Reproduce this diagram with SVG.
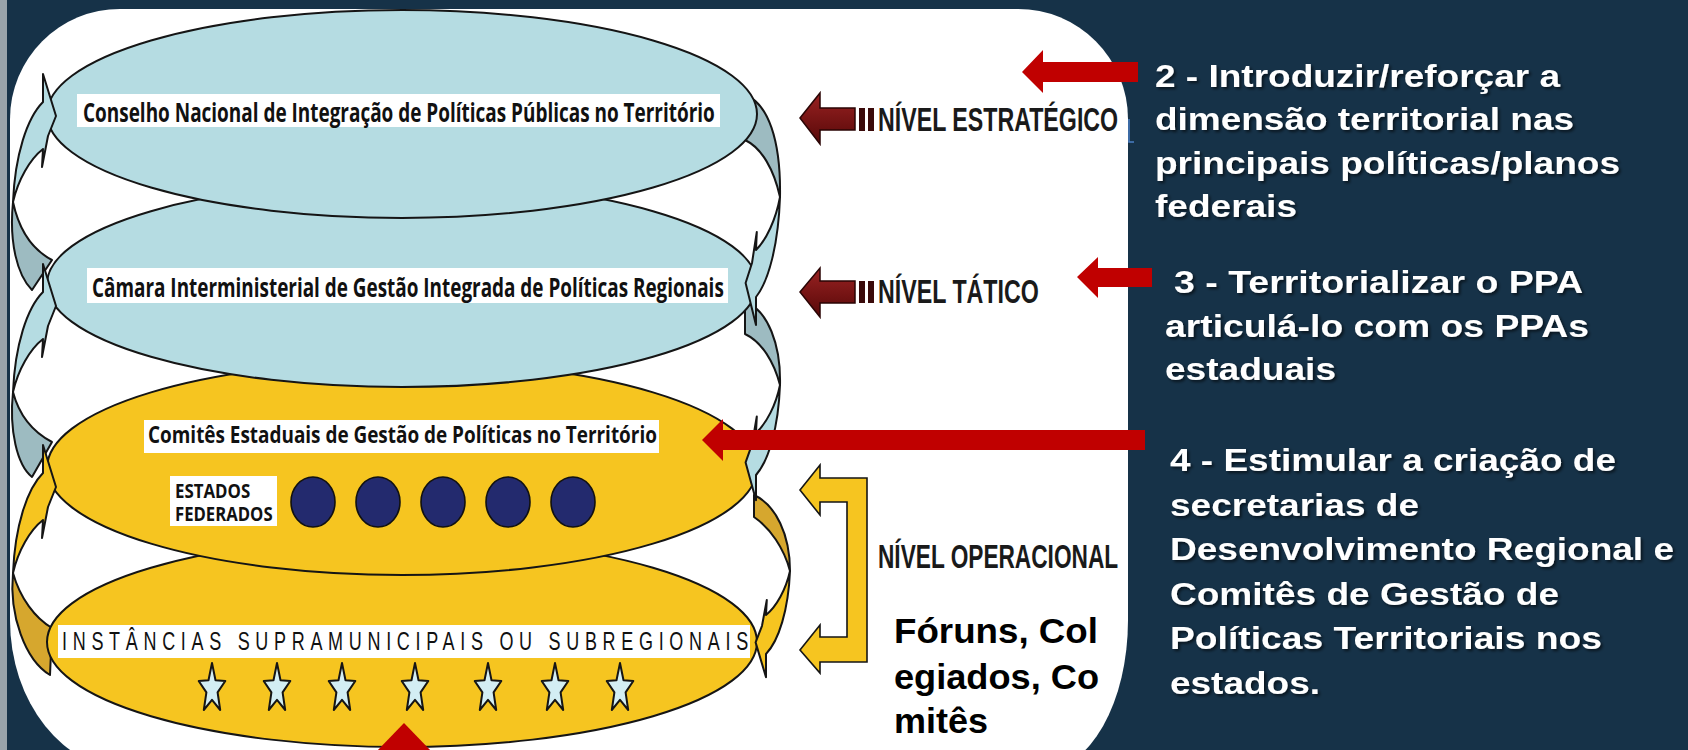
<svg xmlns="http://www.w3.org/2000/svg" xmlns:xlink="http://www.w3.org/1999/xlink" width="1688" height="750" viewBox="0 0 1688 750">
<defs>
<style>
.ol{stroke:#151515;stroke-width:2;stroke-linejoin:round}
.blue{fill:#b5dce2}
.blueD{fill:#9dbbc1}
.yel{fill:#f6c520}
.yelD{fill:#d6a72e}
.box{fill:#ffffff}
.lbl{font-family:'Open Sans','Liberation Sans',sans-serif;font-weight:700;fill:#111}
.niv{font-family:'Liberation Sans',Arial,sans-serif;font-weight:bold;font-size:33px;fill:#1a1a1a}
.rt{font-family:'Liberation Sans',Arial,sans-serif;font-weight:bold;font-size:32px;fill:#ffffff}
.fr{font-family:'Liberation Sans',Arial,sans-serif;font-weight:bold;font-size:35px;fill:#000}
.red{fill:#c00000}
</style>
<linearGradient id="dr" x1="0" y1="0" x2="0" y2="1">
<stop offset="0" stop-color="#9a2222"/>
<stop offset="1" stop-color="#560808"/>
</linearGradient>
<filter id="sh" x="-5%" y="-20%" width="110%" height="140%">
<feDropShadow dx="2" dy="2" stdDeviation="1.5" flood-color="#000" flood-opacity="0.6"/>
</filter>
<path id="ra" vector-effect="non-scaling-stroke" d="M0,0 C2,-47 14,-84 30,-100 L30,-128 L43,-86 L35,-66 L29,-35 L30,-53 C17,-43 5,-22 0,0 Z"/>
<polygon id="star" points="0,-26 3.5,-8.8 13.3,-8 5.6,3.4 8.2,21 0,10.9 -8.2,21 -5.6,3.4 -13.3,-8 -3.5,-8.8"/>
</defs>

<rect width="1688" height="750" fill="#163248"/>
<rect x="0" y="0" width="7" height="750" fill="#99a3aa"/>
<path id="panel" d="M10,119 A110,110 0 0 1 120,9 L1018,9 A110,110 0 0 1 1128,119 L1128,620 A85,150 0 0 1 1043,770 L130,770 A120,150 0 0 1 10,620 Z" fill="#ffffff"/>
<path d="M1129,119 L1129,142 L1134,142" fill="none" stroke="#4a7fc4" stroke-width="1.5"/>

<g id="ribbons-back">
<path class="blueD ol" d="M13,202 C9,242 17,275 32,290 L52,260 C33,250 19,230 13,202 Z"/>
<path class="blueD ol" d="M13,392 C9,430 17,465 32,477 L52,442 C33,432 19,415 13,392 Z"/>
<path class="yelD ol" d="M13,573 C9,615 25,660 50,675 L52,628 C35,618 20,598 13,573 Z"/>
<path class="blueD ol" d="M745,95 C768,103 781,140 780,197 C774,170 762,148 745,140 Z"/>
<path class="blueD ol" d="M745,302 C768,310 781,345 780,385 C774,362 762,342 745,334 Z"/>
<path class="yelD ol" d="M754,495 C776,505 790,535 790,571 C784,548 770,528 754,517 Z"/>
</g>

<g id="node-instancias">
<ellipse class="yel ol" cx="402" cy="642" rx="355" ry="105"/>
<rect class="box" x="58" y="625" width="692" height="33"/>
<text transform="translate(62,650) scale(0.72,1)" x="0" y="0" font-family="'Liberation Sans',Arial,sans-serif" font-size="25" fill="#111" textLength="953" lengthAdjust="spacing">INSTÂNCIAS SUPRAMUNICIPAIS OU SUBREGIONAIS</text>
<g class="ol" fill="#d3eef3" stroke-width="1.6">
<use xlink:href="#star" href="#star" x="212" y="689"/>
<use xlink:href="#star" href="#star" x="277" y="689"/>
<use xlink:href="#star" href="#star" x="342" y="689"/>
<use xlink:href="#star" href="#star" x="415" y="689"/>
<use xlink:href="#star" href="#star" x="488" y="689"/>
<use xlink:href="#star" href="#star" x="555" y="689"/>
<use xlink:href="#star" href="#star" x="620" y="689"/>
</g>
</g>

<g id="node-comites">
<ellipse class="yel ol" cx="402" cy="468" rx="355" ry="107"/>
<rect class="box" x="144" y="420" width="515" height="33"/>
<text class="lbl" transform="translate(148,443) scale(0.7,1)" font-size="24" textLength="727" lengthAdjust="spacingAndGlyphs">Comitês Estaduais de Gestão de Políticas no Território</text>
<rect class="box" x="170" y="476" width="107" height="50"/>
<text class="lbl" transform="translate(175,498) scale(0.8,1)" font-size="19" textLength="94" lengthAdjust="spacingAndGlyphs">ESTADOS</text>
<text class="lbl" transform="translate(175,521) scale(0.8,1)" font-size="19" textLength="122" lengthAdjust="spacingAndGlyphs">FEDERADOS</text>
<g fill="#232a6e" stroke="#111" stroke-width="1.6">
<ellipse cx="313" cy="502" rx="22" ry="25"/>
<ellipse cx="378" cy="502" rx="22" ry="25"/>
<ellipse cx="443" cy="502" rx="22" ry="25"/>
<ellipse cx="508" cy="502" rx="22" ry="25"/>
<ellipse cx="573" cy="502" rx="22" ry="25"/>
</g>
</g>

<g id="node-camara">
<ellipse class="blue ol" cx="402" cy="284" rx="355" ry="103"/>
<rect class="box" x="87" y="268" width="641" height="35"/>
<text class="lbl" transform="translate(92,297) scale(0.62,1)" font-size="27" textLength="1019" lengthAdjust="spacingAndGlyphs">Câmara Interministerial de Gestão Integrada de Políticas Regionais</text>
</g>

<g id="node-conselho">
<ellipse class="blue ol" cx="402" cy="114" rx="355" ry="104"/>
<rect class="box" x="77" y="94" width="643" height="33"/>
<text class="lbl" transform="translate(83,122) scale(0.62,1)" font-size="27" textLength="1019" lengthAdjust="spacingAndGlyphs">Conselho Nacional de Integração de Políticas Públicas no Território</text>
</g>

<g id="ribbons-front" class="ol">
<use xlink:href="#ra" href="#ra" class="blue" transform="translate(13,202)"/>
<use xlink:href="#ra" href="#ra" class="blue" transform="translate(13,392)"/>
<use xlink:href="#ra" href="#ra" class="yel" transform="translate(13,573)"/>
<use xlink:href="#ra" href="#ra" class="blue" transform="translate(780,197) scale(-0.8,-1)"/>
<use xlink:href="#ra" href="#ra" class="blue" transform="translate(780,385) scale(-0.8,-0.9)"/>
<use xlink:href="#ra" href="#ra" class="yel" transform="translate(790,571) scale(-0.8,-0.83)"/>
</g>

<g id="nivel-estrategico">
<polygon points="800,118 820,93 820,108 855,108 855,130 820,130 820,144" fill="url(#dr)" stroke="#2a0505" stroke-width="1.5"/>
<rect x="859" y="108" width="6" height="23" fill="#3a0a0a"/>
<rect x="868" y="108" width="6" height="23" fill="#3a0a0a"/>
<text class="niv" transform="translate(878,131) scale(0.69,1)" textLength="348" lengthAdjust="spacingAndGlyphs">NÍVEL ESTRATÉGICO</text>
</g>

<g id="nivel-tatico">
<polygon points="800,292 820,268 820,281 855,281 855,303 820,303 820,317" fill="url(#dr)" stroke="#2a0505" stroke-width="1.5"/>
<rect x="859" y="281" width="6" height="22" fill="#3a0a0a"/>
<rect x="868" y="281" width="6" height="22" fill="#3a0a0a"/>
<text class="niv" transform="translate(878,303) scale(0.69,1)" textLength="233" lengthAdjust="spacingAndGlyphs">NÍVEL TÁTICO</text>
</g>

<g id="nivel-operacional">
<polygon points="800,490 820,465 820,478 867,478 867,662 820,662 820,673 800,650 820,625 820,637 847,637 847,502 820,502 820,515" class="yel" stroke="#151515" stroke-width="1.6" stroke-linejoin="miter"/>
<text class="niv" transform="translate(878,568) scale(0.69,1)" textLength="348" lengthAdjust="spacingAndGlyphs">NÍVEL OPERACIONAL</text>
</g>

<g id="foruns">
<text class="fr" x="894" y="643" textLength="204" lengthAdjust="spacingAndGlyphs">Fóruns, Col</text>
<text class="fr" x="894" y="689" textLength="205" lengthAdjust="spacingAndGlyphs">egiados, Co</text>
<text class="fr" x="894" y="733" textLength="94" lengthAdjust="spacingAndGlyphs">mitês</text>
</g>

<g id="connectors">
<polygon class="red" points="1022,72 1043,50 1043,62 1138,62 1138,82 1043,82 1043,93"/>
<polygon class="red" points="1077,277 1098,257 1098,268 1152,268 1152,287 1098,287 1098,298"/>
<polygon class="red" points="702,440 723,419 723,430 1145,430 1145,450 723,450 723,461"/>
<polygon class="red" points="404,723 432,752 376,752"/>
</g>

<g id="text-2" filter="url(#sh)">
<text class="rt" x="1155" y="87" textLength="405" lengthAdjust="spacingAndGlyphs">2 - Introduzir/reforçar a</text>
<text class="rt" x="1155" y="130" textLength="419" lengthAdjust="spacingAndGlyphs">dimensão territorial nas</text>
<text class="rt" x="1155" y="174" textLength="465" lengthAdjust="spacingAndGlyphs">principais políticas/planos</text>
<text class="rt" x="1155" y="217" textLength="142" lengthAdjust="spacingAndGlyphs">federais</text>
</g>

<g id="text-3" filter="url(#sh)">
<text class="rt" x="1174" y="293" textLength="409" lengthAdjust="spacingAndGlyphs">3 - Territorializar o PPA</text>
<text class="rt" x="1165" y="337" textLength="424" lengthAdjust="spacingAndGlyphs">articulá-lo com os PPAs</text>
<text class="rt" x="1165" y="380" textLength="171" lengthAdjust="spacingAndGlyphs">estaduais</text>
</g>

<g id="text-4" filter="url(#sh)">
<text class="rt" x="1170" y="471" textLength="446" lengthAdjust="spacingAndGlyphs">4 - Estimular a criação de</text>
<text class="rt" x="1170" y="516" textLength="249" lengthAdjust="spacingAndGlyphs">secretarias de</text>
<text class="rt" x="1170" y="560" textLength="504" lengthAdjust="spacingAndGlyphs">Desenvolvimento Regional e</text>
<text class="rt" x="1170" y="605" textLength="389" lengthAdjust="spacingAndGlyphs">Comitês de Gestão de</text>
<text class="rt" x="1170" y="649" textLength="432" lengthAdjust="spacingAndGlyphs">Políticas Territoriais nos</text>
<text class="rt" x="1170" y="694" textLength="150" lengthAdjust="spacingAndGlyphs">estados.</text>
</g>
</svg>
